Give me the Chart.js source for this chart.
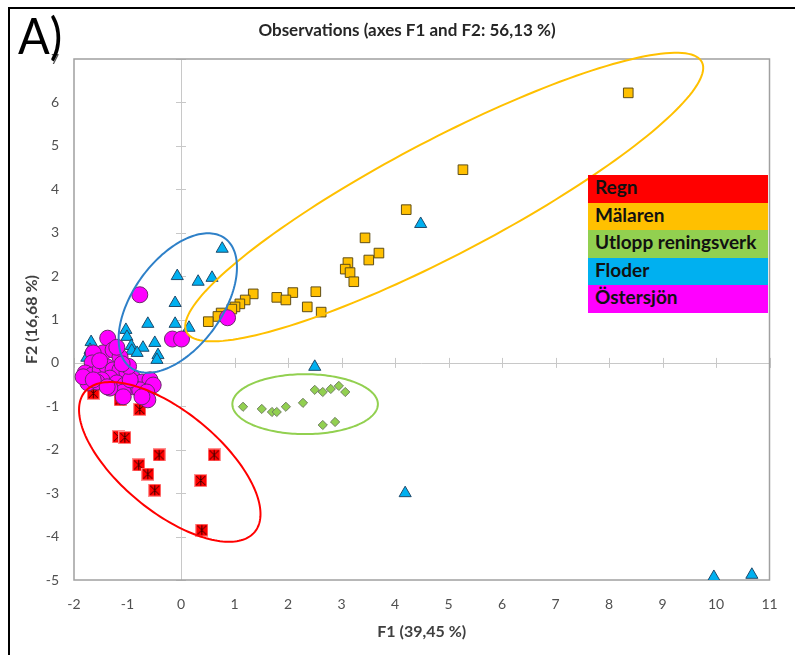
<!DOCTYPE html>
<html>
<head>
<meta charset="utf-8">
<title>Observations (axes F1 and F2: 56,13 %)</title>
<script src="https://cdn.jsdelivr.net/npm/chart.js@4.4.1/dist/chart.umd.min.js"></script>
<style>
  html, body { margin: 0; padding: 0; background: #fff; }
  #wrap { position: relative; width: 795px; height: 655px; background: #fff; overflow: hidden; }
  #c { position: absolute; left: 0; top: 0; }
  .frame { position: absolute; background: #000; }
  #panel { position: absolute; left: 18px; top: 9px; font: 51px Lato, sans-serif; color: #000; line-height: 1; transform: scaleX(0.92); transform-origin: left top; }
  #legend { position: absolute; left: 588px; top: 175px; width: 180px; }
  #legend div { height: 27.6px; line-height: 27.6px; padding-left: 7px; font: bold 19px Lato, sans-serif; color: #111; white-space: nowrap; }
</style>
</head>
<body>
<div id="wrap">
  <canvas id="c" width="795" height="655"></canvas>
  <div class="frame" style="left:8px;top:7px;width:787px;height:2px"></div>
  <div class="frame" style="left:8px;top:7px;width:2px;height:648px"></div>
  <div id="panel">A)</div>
  <div id="legend"></div>
</div>
<script>
// Group names and their colours
const groups = ['Regn', 'Mälaren', 'Utlopp reningsverk', 'Floder', 'Östersjön'];
const groupColors = ['#FF0000', '#FFC000', '#92D050', '#00B0F0', '#FF00FF'];

// Observation scores on F1 / F2, one pair of arrays per group
const regnF1 = [-1.64, -1.14, -0.77, -1.17, -1.05, -0.41, 0.62, -0.79, -0.62, -0.49, 0.37, 0.39];
const regnF2 = [-0.70, -0.85, -1.07, -1.70, -1.72, -2.12, -2.12, -2.35, -2.56, -2.93, -2.71, -3.85];

const malarenF1 = [8.36, 5.27, 4.21, 3.44, 3.70, 3.51, 3.12, 3.07, 3.16, 3.23, 2.52, 2.09, 1.79, 1.96, 2.36, 2.62, 1.35, 1.20, 1.10, 1.01, 0.95, 0.75, 0.69, 0.51];
const malarenF2 = [6.22, 4.45, 3.53, 2.88, 2.53, 2.37, 2.31, 2.16, 2.08, 1.87, 1.64, 1.62, 1.51, 1.45, 1.29, 1.17, 1.59, 1.45, 1.36, 1.29, 1.24, 1.15, 1.07, 0.95];

const utloppF1 = [1.16, 1.51, 1.70, 1.79, 1.96, 2.28, 2.50, 2.65, 2.80, 2.95, 3.07, 2.65, 2.88];
const utloppF2 = [-1.01, -1.06, -1.13, -1.13, -1.01, -0.92, -0.62, -0.67, -0.60, -0.53, -0.67, -1.43, -1.36];

const floderF1 = [0.77, -0.07, 0.32, 0.58, -0.11, -0.62, -0.11, 0.15, -1.03, -1.01, -0.49, -0.71, -0.93, -0.92, -0.82, -0.43, -0.45, -1.68, -1.70, -1.76, 4.48, 2.50, 4.19, 9.96, 10.67];
const floderF2 = [2.63, 2.00, 1.87, 1.96, 1.38, 0.90, 0.90, 0.81, 0.76, 0.60, 0.46, 0.35, 0.39, 0.28, 0.23, 0.18, 0.07, 0.48, 0.30, 0.12, 3.20, -0.09, -3.00, -4.93, -4.88];

const ostersjonF1 = [-0.77, 0.87, -0.16, 0.01, -1.37, -1.46, -1.64, -1.27, -1.14, -1.66, -1.79, -1.66, -1.51, -1.38, -1.27, -1.14, -1.01, -0.90, -0.73, -0.58, -0.52, -1.33, -1.48, -1.57, -1.20, -1.05, -0.90, -0.77, -0.64, -0.62, -0.73, -1.08, -1.33, -1.74, -1.83, -0.95, -1.08, -1.38, -1.64, -1.20, -0.98, -1.52, -1.10];
const ostersjonF2 = [1.57, 1.04, 0.55, 0.55, 0.57, 0.23, 0.23, 0.30, 0.14, 0.00, -0.23, -0.28, -0.16, -0.09, -0.16, -0.16, -0.23, -0.35, -0.44, -0.39, -0.51, -0.35, -0.39, -0.44, -0.46, -0.51, -0.55, -0.62, -0.67, -0.85, -0.78, -0.67, -0.58, -0.46, -0.32, -0.39, -0.78, -0.55, -0.39, 0.36, -0.08, 0.05, -0.02];

// Group ellipses in score units: centre, first and second semi-axis vectors
const ellipseCenters = [[-0.21, -2.28], [4.92, 3.82], [2.32, -0.95], [-0.06, 1.38]];
const ellipseAxisA   = [[1.59, -1.61], [4.82, 3.10], [1.36, 0.00], [0.88, 1.49]];
const ellipseAxisB   = [[-0.59, -0.89], [0.45, -1.20], [0.00, 0.69], [0.67, -0.60]];
const ellipseColors  = ['#FF0000', '#FFC000', '#92D050', '#2E80C8'];

// Axis tick values
const f1Ticks = [-2, -1, 0, 1, 2, 3, 4, 5, 6, 7, 8, 9, 10, 11];
const f2Ticks = [-5, -4, -3, -2, -1, 0, 1, 2, 3, 4, 5, 6, 7];

// Legend block
const legendEl = document.getElementById('legend');
groups.forEach((g, i) => {
  const row = document.createElement('div');
  row.textContent = g;
  row.style.background = groupColors[i];
  legendEl.appendChild(row);
});

// Red square marker with asterisk lines
function makeStarSquare(size) {
  const cv = document.createElement('canvas');
  cv.width = size; cv.height = size;
  const g = cv.getContext('2d');
  g.fillStyle = '#FF9090';
  g.fillRect(0, 0, size, size);
  g.fillStyle = '#FF0000';
  g.fillRect(1, 1, size - 2, size - 2);
  g.strokeStyle = '#3a0000';
  g.lineWidth = 1;
  g.beginPath();
  g.moveTo(2, 2); g.lineTo(size - 2, size - 2);
  g.moveTo(size - 2, 2); g.lineTo(2, size - 2);
  g.moveTo(size / 2, 1.5); g.lineTo(size / 2, size - 1.5);
  g.stroke();
  return cv;
}

function pairs(xs, ys) { return xs.map((x, i) => ({ x: x, y: ys[i] })); }

// Zero axes with cross tick marks, the grey plot frame, group ellipses and title
const axesPlugin = {
  id: 'zeroAxes',
  beforeDatasetsDraw(chart) {
    const { ctx, chartArea: a, scales: { x, y } } = chart;
    const x0 = x.getPixelForValue(0), y0 = y.getPixelForValue(0);
    ctx.save();
    ctx.strokeStyle = '#C8C8C8';
    ctx.lineWidth = 1;
    ctx.beginPath();
    ctx.moveTo(Math.round(x0) + 0.5, a.top); ctx.lineTo(Math.round(x0) + 0.5, a.bottom);
    ctx.moveTo(a.left, Math.round(y0) + 0.5); ctx.lineTo(a.right, Math.round(y0) + 0.5);
    f2Ticks.forEach(v => {
      const py = Math.round(y.getPixelForValue(v)) + 0.5;
      ctx.moveTo(x0 - 5, py); ctx.lineTo(x0 + 5, py);
    });
    f1Ticks.forEach(v => {
      const px = Math.round(x.getPixelForValue(v)) + 0.5;
      ctx.moveTo(px, y0 - 5); ctx.lineTo(px, y0 + 5);
    });
    ctx.stroke();
    ctx.strokeStyle = '#A0A0A0';
    ctx.lineWidth = 1.5;
    ctx.strokeRect(a.left, a.top, a.right - a.left, a.bottom - a.top);
    ctx.restore();
  },
  afterDatasetsDraw(chart) {
    const { ctx, scales: { x, y } } = chart;
    ctx.save();
    ctx.lineWidth = 2;
    ellipseCenters.forEach((c, k) => {
      const A = ellipseAxisA[k], B = ellipseAxisB[k];
      ctx.strokeStyle = ellipseColors[k];
      ctx.beginPath();
      for (let s = 0; s <= 180; s++) {
        const t = s / 180 * Math.PI * 2;
        const vx = c[0] + A[0] * Math.cos(t) + B[0] * Math.sin(t);
        const vy = c[1] + A[1] * Math.cos(t) + B[1] * Math.sin(t);
        const px = x.getPixelForValue(vx), py = y.getPixelForValue(vy);
        if (s === 0) ctx.moveTo(px, py); else ctx.lineTo(px, py);
      }
      ctx.closePath();
      ctx.stroke();
    });
    ctx.restore();
  },
  afterDraw(chart) {
    const { ctx } = chart;
    ctx.save();
    ctx.fillStyle = '#262626';
    ctx.font = 'bold 17px Lato, sans-serif';
    ctx.textAlign = 'center';
    ctx.textBaseline = 'middle';
    ctx.fillText('Observations (axes F1 and F2: 56,13 %)', 407, 31);
    ctx.restore();
  }
};

Chart.defaults.font.family = 'Lato, sans-serif';

new Chart(document.getElementById('c'), {
  type: 'scatter',
  data: {
    datasets: [
      { label: groups[0], data: pairs(regnF1, regnF2), order: 5,
        pointStyle: makeStarSquare(13), pointRadius: 6.5, pointHoverRadius: 6.5 },
      { label: groups[1], data: pairs(malarenF1, malarenF2), order: 4,
        pointStyle: 'rect', pointRadius: 6.8, backgroundColor: groupColors[1],
        borderColor: '#5e4d17', borderWidth: 1 },
      { label: groups[2], data: pairs(utloppF1, utloppF2), order: 3,
        pointStyle: 'rectRot', pointRadius: 4.6, backgroundColor: groupColors[2],
        borderColor: '#6f7f5f', borderWidth: 1 },
      { label: groups[3], data: pairs(floderF1, floderF2), order: 2,
        pointStyle: 'triangle', pointRadius: 7, backgroundColor: groupColors[3],
        borderColor: '#1f4a6b', borderWidth: 1 },
      { label: groups[4], data: pairs(ostersjonF1, ostersjonF2), order: 1,
        pointStyle: 'circle', pointRadius: 8, backgroundColor: groupColors[4],
        borderColor: '#6a2a6a', borderWidth: 1 }
    ]
  },
  options: {
    responsive: false,
    animation: false,
    devicePixelRatio: 1,
    layout: { padding: { left: 0, top: 59, right: 25.5, bottom: 0 } },
    plugins: { legend: { display: false }, title: { display: false }, tooltip: { enabled: false } },
    scales: {
      x: {
        type: 'linear', min: -2, max: 11,
        afterBuildTicks(s) { s.ticks = f1Ticks.map(v => ({ value: v })); },
        afterFit(s) { s.height = 75; },
        grid: { display: false, drawTicks: false },
        border: { display: false },
        ticks: { color: '#505050', font: { size: 14 }, padding: 16, maxRotation: 0, autoSkip: false },
        title: { display: true, text: 'F1 (39,45 %)', color: '#404040',
                 font: { size: 16, weight: 'bold' }, padding: { top: 0, bottom: 14 } }
      },
      y: {
        type: 'linear', min: -5, max: 7,
        afterBuildTicks(s) { s.ticks = f2Ticks.map(v => ({ value: v })); },
        afterFit(s) { s.width = 74; },
        grid: { display: false, drawTicks: false },
        border: { display: false },
        ticks: { color: '#505050', font: { size: 14 }, padding: 15, autoSkip: false },
        title: { display: true, text: 'F2 (16,68 %)', color: '#404040',
                 font: { size: 16, weight: 'bold' }, padding: { top: 22, bottom: 0 } }
      }
    }
  },
  plugins: [axesPlugin]
});
</script>
</body>
</html>
